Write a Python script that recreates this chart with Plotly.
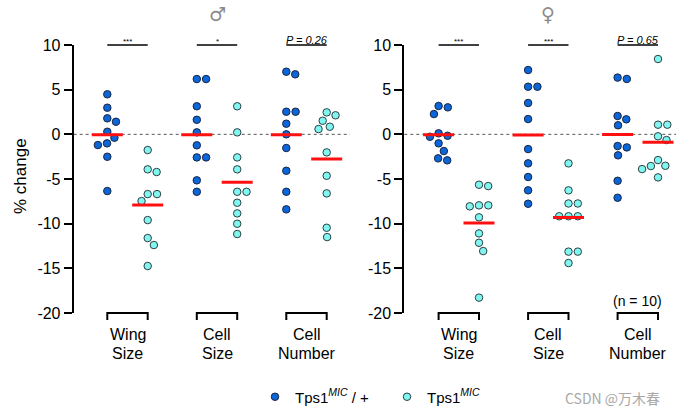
import plotly.graph_objects as go

# ---------------- data ----------------
group_lines = [["Wing", "Size"], ["Cell", "Size"], ["Cell", "Number"]]
series_names = ["Tps1<sup><i>MIC</i></sup> / +", "Tps1<sup><i>MIC</i></sup>"]
y_ticks = [10, 5, 0, -5, -10, -15, -20]
y_tick_labels = ["10", "5", "0", "-5", "-10", "-15", "-20"]
panel_titles = ["\u2642", "\u2640"]
male_sig = ["***", "*", "P = 0.26"]
female_sig = ["***", "***", "P = 0.65"]
n_note = "(n = 10)"
watermark = "CSDN @万木春"

# male (♂)
male_wing_ctrl = [4.48, 2.98, 1.79, 1.41, 0.29, -0.38, -1.01, -1.20, -2.51, -6.35]
male_wing_mic = [-1.76, -3.92, -4.22, -6.69, -6.69, -7.47, -9.60, -11.61, -12.39, -14.74]
male_cell_ctrl = [6.19, 6.19, 3.14, 1.63, 0.22, -1.23, -2.58, -2.58, -5.15, -6.43]
male_cell_mic = [3.14, 0.22, -2.58, -3.92, -6.43, -6.43, -7.66, -8.85, -10.01, -11.16]
male_num_ctrl = [6.72, 7.01, 2.53, 2.53, 1.19, 0.00, -1.53, -4.08, -6.43, -8.40]
male_num_mic = [2.46, 2.13, 1.52, 0.85, 0.59, -2.02, -4.64, -6.61, -10.46, -11.50]

# female (♀)
female_wing_ctrl = [3.17, 3.02, 2.27, 0.11, -0.16, -0.27, -1.01, -1.87, -2.69, -2.91]
female_wing_mic = [-5.64, -5.79, -7.95, -7.95, -8.06, -9.29, -11.09, -12.14, -13.07, -18.28]
female_cell_ctrl = [7.20, 5.33, 5.33, 3.51, 1.71, -1.65, -3.25, -4.78, -6.27, -7.77]
female_cell_mic = [-3.25, -6.27, -7.74, -7.74, -9.17, -9.17, -9.17, -13.13, -13.13, -14.41]
female_num_ctrl = [6.20, 6.35, 2.05, 1.68, 1.01, -1.31, -1.46, -2.35, -5.20, -7.10]
female_num_mic = [8.43, 1.08, 1.08, -0.22, -0.64, -2.88, -3.52, -3.55, -3.89, -4.82]

panels = [
    [(male_wing_ctrl, male_wing_mic), (male_cell_ctrl, male_cell_mic), (male_num_ctrl, male_num_mic)],
    [(female_wing_ctrl, female_wing_mic), (female_cell_ctrl, female_cell_mic), (female_num_ctrl, female_num_mic)],
]
panel_sigs = [male_sig, female_sig]

# ---------------- layout constants ----------------
W, H = 696, 420
FONT = "Liberation Sans, Arial, sans-serif"
PANEL_PX = [(73.7, 350.0, 127.5), (404.3, 676.0, 458.8)]
GROUP_PX = 89.5
PAIR = 20.2 / GROUP_PX
MEAN_HALF = 15.5 / GROUP_PX
Y_TOP_PX, Y_BOT_PX = 45.0, 313.0
Y_RANGE = [-20, 10]
PX_PER_Y = (Y_BOT_PX - Y_TOP_PX) / (Y_RANGE[1] - Y_RANGE[0])
MARKER_D = 9.3
COLORS = ["#0B66DA", "#7FF6F0"]
EDGES = ["#1A2540", "#2F3F44"]


def px_(x):
    return x / W


def py(y):
    return 1 - y / H


def swarm(values):
    placed = []
    offs = [0.0] * len(values)
    order = sorted(range(len(values)), key=lambda i: -values[i])
    for i in order:
        yv = values[i] * PX_PER_Y
        cands = [0.0]
        for (cx, cy) in placed:
            dy = abs(cy - yv)
            if dy < MARKER_D:
                dx = (MARKER_D ** 2 - dy ** 2) ** 0.5
                cands += [cx + dx, cx - dx]
        cands.sort(key=lambda c: (round(abs(c), 6), -c))
        for c in cands:
            if all((c - cx) ** 2 + (yv - cy) ** 2 >= MARKER_D ** 2 - 1e-6 for cx, cy in placed):
                offs[i] = c
                placed.append((c, yv))
                break
    return [o / GROUP_PX for o in offs]


fig = go.Figure()
shapes = []
annotations = []

for p, groups in enumerate(panels):
    xa = "x" if p == 0 else "x2"
    ya = "y" if p == 0 else "y2"
    for g, pair in enumerate(groups):
        for s, vals in enumerate(pair):
            cx = g + (-PAIR if s == 0 else PAIR)
            offs = swarm(vals)
            fig.add_trace(go.Scatter(
                x=[cx + o for o in offs], y=vals, mode="markers",
                marker=dict(size=7.5, color=COLORS[s], line=dict(color=EDGES[s], width=1)),
                xaxis=xa, yaxis=ya, name=series_names[s],
                legend="legend" if s == 0 else "legend2",
                showlegend=(p == 0 and g == 0), hoverinfo="skip", cliponaxis=False,
            ))
        for s, vals in enumerate(pair):
            cx = g + (-PAIR if s == 0 else PAIR)
            m = sum(vals) / len(vals)
            fig.add_trace(go.Scatter(
                x=[cx - MEAN_HALF, cx + MEAN_HALF], y=[m, m], mode="lines",
                line=dict(color="#FF1010", width=3), xaxis=xa, yaxis=ya,
                showlegend=False, hoverinfo="skip",
            ))
        xb, xc = g - PAIR, g + PAIR
        shapes.append(dict(
            type="path", xref=xa, yref="paper",
            path=f"M {xb},{py(320)} L {xb},{py(313)} L {xc},{py(313)} L {xc},{py(320)}",
            line=dict(color="black", width=2),
        ))
        for r, txt in enumerate(group_lines[g]):
            annotations.append(dict(
                x=g, y=py(334 + 19 * r), xref=xa, yref="paper", text=txt,
                showarrow=False, font=dict(family=FONT, size=16, color="black"),
                xanchor="center", yanchor="middle",
            ))
        shapes.append(dict(
            type="line", xref=xa, yref="paper", x0=xb, x1=xc, y0=py(45), y1=py(45),
            line=dict(color="black", width=1.5),
        ))
        sig = panel_sigs[p][g]
        if sig.startswith("P"):
            annotations.append(dict(
                x=g, y=py(39.5), xref=xa, yref="paper", text=f"<i>{sig}</i>",
                showarrow=False, font=dict(family=FONT, size=11, color="black"),
                xanchor="center", yanchor="middle",
            ))
        else:
            annotations.append(dict(
                x=g, y=py(42), xref=xa, yref="paper", text=sig,
                showarrow=False, font=dict(family=FONT, size=8, color="black"),
                xanchor="center", yanchor="middle",
            ))
    shapes.append(dict(
        type="line", xref=f"{xa} domain", yref=ya, x0=0, x1=1, y0=0, y1=0,
        line=dict(color="#555555", width=1, dash="3px,3px"), layer="below",
    ))
    annotations.append(dict(
        x=1, y=py(14), xref=xa, yref="paper", text=panel_titles[p], showarrow=False,
        font=dict(family="DejaVu Sans", size=19, color="#8a8a8a"),
        xanchor="center", yanchor="middle",
    ))

annotations.append(dict(
    x=2, y=py(301), xref="x2", yref="paper", text=n_note, showarrow=False,
    font=dict(family=FONT, size=14, color="black"), xanchor="center", yanchor="middle",
))
annotations.append(dict(
    x=px_(20), y=py(176), xref="paper", yref="paper", text="% change", textangle=-90,
    showarrow=False, font=dict(family=FONT, size=17, color="black"),
    xanchor="center", yanchor="middle",
))
annotations.append(dict(
    x=px_(563), y=py(398), xref="paper", yref="paper", text=watermark, showarrow=False,
    font=dict(family="Noto Sans CJK SC", size=14, color="#a8a8a8"),
    xanchor="left", yanchor="middle",
))


def xaxis_cfg(p):
    left_px, right_px, c0 = PANEL_PX[p]
    return dict(
        domain=[px_(left_px), px_(right_px)],
        range=[(left_px - c0) / GROUP_PX, (right_px - c0) / GROUP_PX],
        showline=False, showticklabels=False, showgrid=False, zeroline=False, ticks="",
        automargin=False,
    )


def yaxis_cfg(anchor):
    return dict(
        domain=[py(Y_BOT_PX), py(Y_TOP_PX)], range=Y_RANGE, anchor=anchor,
        tickvals=y_ticks, ticktext=y_tick_labels, ticks="outside", ticklen=8, tickwidth=2,
        tickcolor="black", showline=True, linecolor="black", linewidth=2,
        showgrid=False, zeroline=False, automargin=False,
        tickfont=dict(family=FONT, size=16, color="black"),
    )


leg_common = dict(orientation="h", yanchor="middle", xanchor="left",
                  font=dict(family=FONT, size=15, color="black"),
                  bgcolor="rgba(0,0,0,0)", borderwidth=0)

fig.update_layout(
    width=W, height=H, margin=dict(l=0, r=0, t=0, b=0, autoexpand=False),
    paper_bgcolor="white", plot_bgcolor="white",
    xaxis=xaxis_cfg(0), xaxis2=xaxis_cfg(1),
    yaxis=yaxis_cfg("x"), yaxis2=yaxis_cfg("x2"),
    shapes=shapes, annotations=annotations,
    legend=dict(x=px_(277 - 22), y=py(397), **leg_common),
    legend2=dict(x=px_(409 - 22), y=py(397), **leg_common),
    font=dict(family=FONT),
)

fig.write_html("out.html", config={"displayModeBar": False},
               post_script="document.body.style.margin='0';")
